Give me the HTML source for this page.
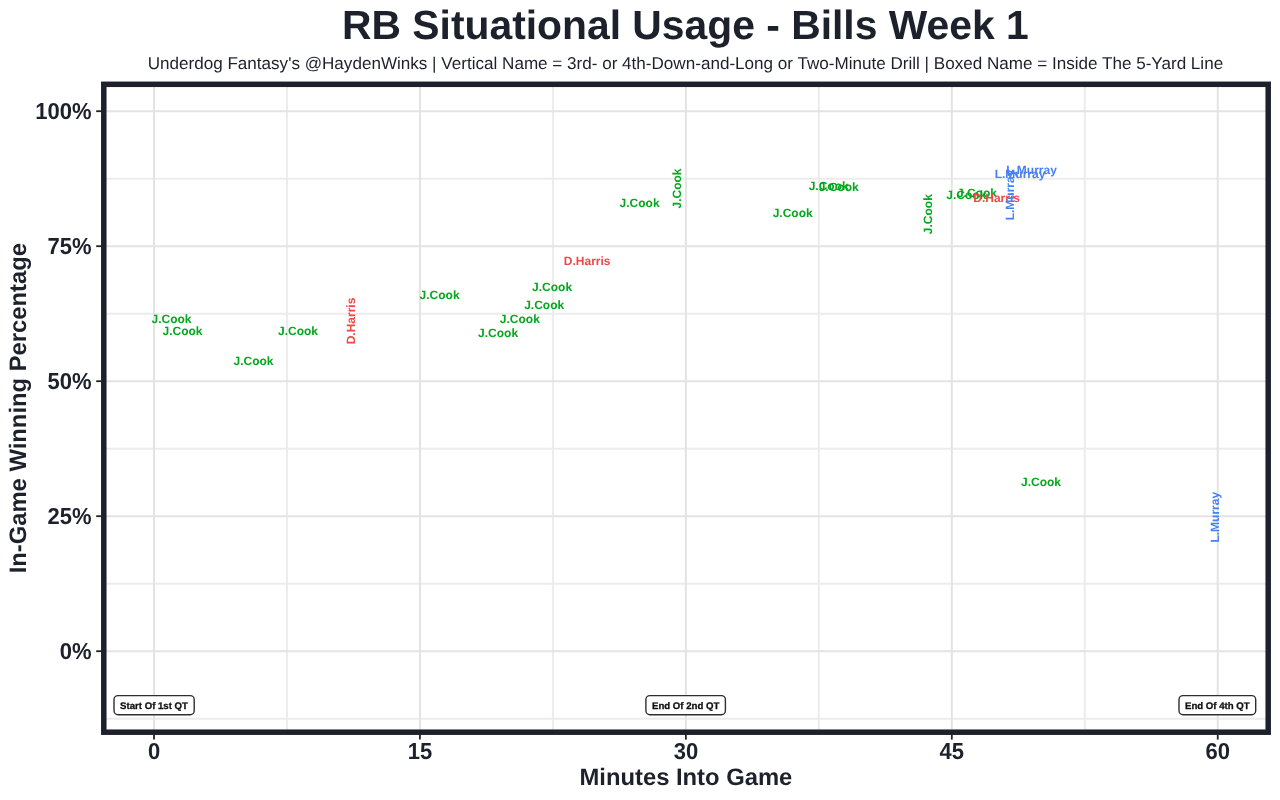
<!DOCTYPE html><html><head><meta charset="utf-8"><style>html,body{margin:0;padding:0;background:#fff;width:1280px;height:800px;overflow:hidden}svg{display:block;will-change:transform}text{font-family:"Liberation Sans",sans-serif;text-rendering:geometricPrecision}</style></head><body>
<svg width="1280" height="800" viewBox="0 0 1280 800">
<rect x="0" y="0" width="1280" height="800" fill="#ffffff"/>
<text transform="translate(342.00 38.75)" text-anchor="start" font-weight="bold" font-size="40.84" fill="#1d212c">RB Situational Usage - Bills Week 1</text>
<text transform="translate(685.40 68.60)" text-anchor="middle" font-size="17.09" fill="#1d212c">Underdog Fantasy's @HaydenWinks | Vertical Name = 3rd- or 4th-Down-and-Long or Two-Minute Drill | Boxed Name = Inside The 5-Yard Line</text>
<line x1="286.97" y1="84" x2="286.97" y2="732" stroke="#ececec" stroke-width="2"/>
<line x1="552.91" y1="84" x2="552.91" y2="732" stroke="#ececec" stroke-width="2"/>
<line x1="818.84" y1="84" x2="818.84" y2="732" stroke="#ececec" stroke-width="2"/>
<line x1="1084.78" y1="84" x2="1084.78" y2="732" stroke="#ececec" stroke-width="2"/>
<line x1="104" y1="178.70" x2="1268" y2="178.70" stroke="#ececec" stroke-width="2"/>
<line x1="104" y1="313.70" x2="1268" y2="313.70" stroke="#ececec" stroke-width="2"/>
<line x1="104" y1="448.70" x2="1268" y2="448.70" stroke="#ececec" stroke-width="2"/>
<line x1="104" y1="583.70" x2="1268" y2="583.70" stroke="#ececec" stroke-width="2"/>
<line x1="104" y1="718.70" x2="1268" y2="718.70" stroke="#ececec" stroke-width="2"/>
<line x1="154.00" y1="84" x2="154.00" y2="732" stroke="#e3e3e3" stroke-width="2"/>
<line x1="419.94" y1="84" x2="419.94" y2="732" stroke="#e3e3e3" stroke-width="2"/>
<line x1="685.88" y1="84" x2="685.88" y2="732" stroke="#e3e3e3" stroke-width="2"/>
<line x1="951.81" y1="84" x2="951.81" y2="732" stroke="#e3e3e3" stroke-width="2"/>
<line x1="1217.75" y1="84" x2="1217.75" y2="732" stroke="#e3e3e3" stroke-width="2"/>
<line x1="104" y1="111.20" x2="1268" y2="111.20" stroke="#e3e3e3" stroke-width="2"/>
<line x1="104" y1="246.20" x2="1268" y2="246.20" stroke="#e3e3e3" stroke-width="2"/>
<line x1="104" y1="381.20" x2="1268" y2="381.20" stroke="#e3e3e3" stroke-width="2"/>
<line x1="104" y1="516.20" x2="1268" y2="516.20" stroke="#e3e3e3" stroke-width="2"/>
<line x1="104" y1="651.20" x2="1268" y2="651.20" stroke="#e3e3e3" stroke-width="2"/>
<rect x="114.0" y="695.6" width="80.2" height="19.2" rx="4" ry="4" fill="#fff" stroke="#2e2e2e" stroke-width="1.4"/>
<text transform="translate(154.00 708.90)" text-anchor="middle" font-weight="bold" stroke="#111" stroke-width="0.3" font-size="9.65" fill="#111">Start Of 1st QT</text>
<rect x="645.9" y="695.6" width="79.5" height="19.2" rx="4" ry="4" fill="#fff" stroke="#2e2e2e" stroke-width="1.4"/>
<text transform="translate(685.65 708.90)" text-anchor="middle" font-weight="bold" stroke="#111" stroke-width="0.3" font-size="9.65" fill="#111">End Of 2nd QT</text>
<rect x="1179.0" y="695.6" width="76.7" height="19.2" rx="4" ry="4" fill="#fff" stroke="#2e2e2e" stroke-width="1.4"/>
<text transform="translate(1217.35 708.90)" text-anchor="middle" font-weight="bold" stroke="#111" stroke-width="0.3" font-size="9.65" fill="#111">End Of 4th QT</text>
<text transform="translate(171.50 322.90)" text-anchor="middle" font-weight="bold" font-size="12" fill="#04a81e">J.Cook</text>
<text transform="translate(182.50 334.60)" text-anchor="middle" font-weight="bold" font-size="12" fill="#04a81e">J.Cook</text>
<text transform="translate(298.00 335.30)" text-anchor="middle" font-weight="bold" font-size="12" fill="#04a81e">J.Cook</text>
<text transform="translate(253.50 364.80)" text-anchor="middle" font-weight="bold" font-size="12" fill="#04a81e">J.Cook</text>
<text transform="translate(439.60 299.10)" text-anchor="middle" font-weight="bold" font-size="12" fill="#04a81e">J.Cook</text>
<text transform="translate(552.10 290.60)" text-anchor="middle" font-weight="bold" font-size="12" fill="#04a81e">J.Cook</text>
<text transform="translate(544.20 308.80)" text-anchor="middle" font-weight="bold" font-size="12" fill="#04a81e">J.Cook</text>
<text transform="translate(519.80 322.90)" text-anchor="middle" font-weight="bold" font-size="12" fill="#04a81e">J.Cook</text>
<text transform="translate(498.10 336.90)" text-anchor="middle" font-weight="bold" font-size="12" fill="#04a81e">J.Cook</text>
<text transform="translate(639.60 207.00)" text-anchor="middle" font-weight="bold" font-size="12" fill="#04a81e">J.Cook</text>
<text transform="translate(792.70 217.30)" text-anchor="middle" font-weight="bold" font-size="12" fill="#04a81e">J.Cook</text>
<text transform="translate(828.65 189.70)" text-anchor="middle" font-weight="bold" font-size="12" fill="#04a81e">J.Cook</text>
<text transform="translate(838.65 190.90)" text-anchor="middle" font-weight="bold" font-size="12" fill="#04a81e">J.Cook</text>
<text transform="translate(966.30 198.50)" text-anchor="middle" font-weight="bold" font-size="12" fill="#04a81e">J.Cook</text>
<text transform="translate(976.90 196.70)" text-anchor="middle" font-weight="bold" font-size="12" fill="#04a81e">J.Cook</text>
<text transform="translate(1041.00 486.20)" text-anchor="middle" font-weight="bold" font-size="12" fill="#04a81e">J.Cook</text>
<text transform="translate(587.20 264.90)" text-anchor="middle" font-weight="bold" font-size="12" fill="#ee4848">D.Harris</text>
<text transform="translate(996.60 202.00)" text-anchor="middle" font-weight="bold" font-size="12" fill="#ee4848">D.Harris</text>
<text transform="translate(1020.00 177.80)" text-anchor="middle" font-weight="bold" font-size="12" fill="#4580f5">L.Murray</text>
<text transform="translate(1031.50 174.00)" text-anchor="middle" font-weight="bold" font-size="12" fill="#4580f5">L.Murray</text>
<text transform="translate(355.40 321.00) rotate(-90)" text-anchor="middle" font-weight="bold" font-size="12" fill="#ee4848">D.Harris</text>
<text transform="translate(681.00 188.50) rotate(-90)" text-anchor="middle" font-weight="bold" font-size="12" fill="#04a81e">J.Cook</text>
<text transform="translate(932.30 214.20) rotate(-90)" text-anchor="middle" font-weight="bold" font-size="12" fill="#04a81e">J.Cook</text>
<text transform="translate(1013.90 195.00) rotate(-90)" text-anchor="middle" font-weight="bold" font-size="12" fill="#4580f5">L.Murray</text>
<text transform="translate(1218.90 517.20) rotate(-90)" text-anchor="middle" font-weight="bold" font-size="12" fill="#4580f5">L.Murray</text>
<rect x="103.8" y="84.3" width="1164.4" height="647.9" fill="none" stroke="#1d212c" stroke-width="5.5"/>
<line x1="96.2" y1="111.20" x2="101.5" y2="111.20" stroke="#222" stroke-width="1.8"/>
<text transform="translate(91.60 118.90) scale(1 1.05)" text-anchor="end" font-weight="bold" font-size="22" fill="#1d212c">100%</text>
<line x1="96.2" y1="246.20" x2="101.5" y2="246.20" stroke="#222" stroke-width="1.8"/>
<text transform="translate(91.60 253.90) scale(1 1.05)" text-anchor="end" font-weight="bold" font-size="22" fill="#1d212c">75%</text>
<line x1="96.2" y1="381.20" x2="101.5" y2="381.20" stroke="#222" stroke-width="1.8"/>
<text transform="translate(91.60 388.90) scale(1 1.05)" text-anchor="end" font-weight="bold" font-size="22" fill="#1d212c">50%</text>
<line x1="96.2" y1="516.20" x2="101.5" y2="516.20" stroke="#222" stroke-width="1.8"/>
<text transform="translate(91.60 523.90) scale(1 1.05)" text-anchor="end" font-weight="bold" font-size="22" fill="#1d212c">25%</text>
<line x1="96.2" y1="651.20" x2="101.5" y2="651.20" stroke="#222" stroke-width="1.8"/>
<text transform="translate(91.60 658.90) scale(1 1.05)" text-anchor="end" font-weight="bold" font-size="22" fill="#1d212c">0%</text>
<line x1="154.00" y1="734.5" x2="154.00" y2="739.6" stroke="#222" stroke-width="1.8"/>
<text transform="translate(154.00 759.40) scale(1 1.05)" text-anchor="middle" font-weight="bold" font-size="22" fill="#1d212c">0</text>
<line x1="419.94" y1="734.5" x2="419.94" y2="739.6" stroke="#222" stroke-width="1.8"/>
<text transform="translate(419.94 759.40) scale(1 1.05)" text-anchor="middle" font-weight="bold" font-size="22" fill="#1d212c">15</text>
<line x1="685.88" y1="734.5" x2="685.88" y2="739.6" stroke="#222" stroke-width="1.8"/>
<text transform="translate(685.88 759.40) scale(1 1.05)" text-anchor="middle" font-weight="bold" font-size="22" fill="#1d212c">30</text>
<line x1="951.81" y1="734.5" x2="951.81" y2="739.6" stroke="#222" stroke-width="1.8"/>
<text transform="translate(951.81 759.40) scale(1 1.05)" text-anchor="middle" font-weight="bold" font-size="22" fill="#1d212c">45</text>
<line x1="1217.75" y1="734.5" x2="1217.75" y2="739.6" stroke="#222" stroke-width="1.8"/>
<text transform="translate(1217.75 759.40) scale(1 1.05)" text-anchor="middle" font-weight="bold" font-size="22" fill="#1d212c">60</text>
<text transform="translate(685.90 785.30)" text-anchor="middle" font-weight="bold" font-size="23.8" fill="#1d212c">Minutes Into Game</text>
<text transform="translate(26.10 408.20) rotate(-90)" text-anchor="middle" font-weight="bold" font-size="23.8" fill="#1d212c">In-Game Winning Percentage</text>
</svg></body></html>
